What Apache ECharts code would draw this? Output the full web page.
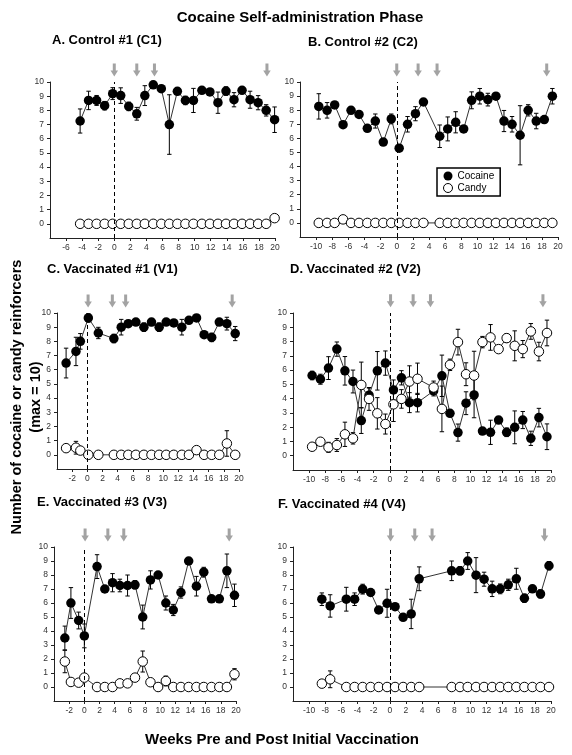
<!DOCTYPE html>
<html><head><meta charset="utf-8">
<script src="https://cdn.jsdelivr.net/npm/echarts@6/dist/echarts.min.js"></script>
<style>html,body{margin:0;padding:0;background:#fff}#c{width:572px;height:755px}</style>
</head><body><div id="c"></div>
<script>
// ---------- DATA ----------
const aWeeks = [-4.25,-3.2,-2.2,-1.2,-0.2,0.8,1.8,2.8,3.8,4.85,5.85,6.85,7.85,8.85,9.85,10.9,11.9,12.9,13.9,14.9,15.9,16.9,17.9,18.9,19.95];
const aCocaine = [7.25,8.7,8.7,8.33,9.18,9.04,8.28,7.76,9.04,9.8,9.53,7.0,9.34,8.7,8.7,9.41,9.3,8.54,9.36,8.75,9.41,8.75,8.54,8.0,7.34];
const aCocaineErr = [0.85,0.65,0.35,0.3,0.42,0.55,0.3,0.45,0.7,0.15,0.1,2.1,0.1,0.3,0.85,0.1,0.1,0.75,0.3,0.5,0.1,0.6,0.5,0.4,0.9];
const aCandy = [0,0,0,0,0,0,0,0,0,0,0,0,0,0,0,0,0,0,0,0,0,0,0,0,0.4];
const aCandyErr = [0,0,0,0,0,0,0,0,0,0,0,0,0,0,0,0,0,0,0,0,0,0,0,0,0.15];
const aArrows = [0, 2.8, 5.0, 19.0];

const bWeeks = [-9.67,-8.64,-7.7,-6.66,-5.67,-4.68,-3.65,-2.66,-1.67,-0.68,0.3,1.34,2.32,3.31,5.33,6.32,7.31,8.3,9.29,10.3,11.3,12.3,13.3,14.3,15.3,16.3,17.3,18.3,19.3];
const bCocaine = [8.27,7.99,8.37,6.97,7.99,7.7,6.71,7.23,5.74,7.38,5.3,7.0,7.75,8.58,6.15,6.67,7.14,6.67,8.7,8.99,8.75,8.99,7.23,7.0,6.22,7.99,7.23,7.33,8.99];
const bCocaineErr = [0.9,0.55,0.1,0.1,0.1,0.1,0.1,0.5,0.1,0.35,0.1,0.55,0.5,0.1,0.8,0.85,0.75,0.1,0.6,0.55,0.45,0.1,0.75,0.55,2.1,0.4,0.55,0.2,0.55];
const bCandy = [0,0,0,0.25,0,0,0,0,0,0,0,0,0,0,0,0,0,0,0,0,0,0,0,0,0,0,0,0,0];
const bCandyErr = [0,0,0,0,0,0,0,0,0,0,0,0,0,0,0,0,0,0,0,0,0,0,0,0,0,0,0,0,0];
const bArrows = [0, 2.65, 5.0, 18.6];

const cWeeks = [-2.8,-1.5,-0.92,0.13,1.45,3.5,4.47,5.4,6.4,7.46,8.46,9.47,10.4,11.4,12.46,13.4,14.4,15.4,16.4,17.4,18.4,19.5];
const cCocaine = [6.47,7.29,8.0,9.65,8.59,8.2,9.0,9.25,9.36,9.0,9.36,9.0,9.36,9.3,9.0,9.48,9.65,8.47,8.28,9.36,9.25,8.55];
const cCocaineErr = [1.05,1.0,0.55,0.3,0.4,0.3,0.55,0.2,0.2,0.3,0.25,0.3,0.2,0.2,0.55,0.15,0.2,0.1,0.3,0.2,0.45,0.5];
const cCandy = [0.47,0.5,0.3,0,0,0,0,0,0,0,0,0,0,0,0,0,0.33,0,0,0,0.8,0];
const cCandyErr = [0.2,0.45,0.2,0,0,0,0,0,0,0,0,0,0,0,0,0,0.2,0,0,0,0.9,0];
const cArrows = [0.1, 3.3, 5.05, 19.1];

const dWeeks = [-9.63,-8.6,-7.6,-6.56,-5.56,-4.56,-3.53,-2.57,-1.54,-0.54,0.46,1.45,2.45,3.44,5.44,6.47,7.47,8.46,9.46,10.46,11.5,12.5,13.5,14.5,15.5,16.5,17.5,18.5,19.5];
const dCocaine = [5.62,5.36,6.14,7.47,5.95,5.2,2.46,4.24,5.95,6.49,4.61,5.46,3.72,3.72,4.54,5.6,2.97,1.62,3.68,4.26,1.73,1.64,2.5,1.64,1.99,2.5,1.22,2.67,1.33];
const dCocaineErr = [0.3,0.35,0.8,0.5,1.0,0.8,0.9,0.5,1.35,0.85,0.7,0.5,0.7,0.65,0.35,1.45,0.15,0.6,0.8,1.6,0.15,0.85,0.2,0.3,1.15,0.6,0.5,0.65,0.9];
const dCandy = [0.63,0.98,0.59,0.75,1.5,1.22,4.96,3.98,2.97,2.22,3.6,3.98,5.2,5.39,4.78,3.28,6.37,7.96,5.71,5.62,7.96,8.29,7.47,8.24,7.7,7.47,8.71,7.3,8.6];
const dCandyErr = [0.25,0.2,0.35,0.45,0.85,0.4,1.6,0.8,1.1,0.7,1.2,0.65,1.1,1.1,0.45,1.6,0.4,0.9,0.8,1.7,0.4,0.9,0.15,0.3,1.05,0.6,0.55,0.65,0.9];
const dArrows = [0.1, 2.9, 5.05, 19.0];

const eWeeks = [-2.57,-1.77,-0.75,0,1.68,2.7,3.72,4.69,5.7,6.68,7.7,8.72,9.73,10.75,11.73,12.74,13.76,14.78,15.75,16.77,17.8,18.8,19.8];
const eCocaine = [3.5,6.0,4.75,3.65,8.6,7.0,7.45,7.25,7.25,7.3,5.0,7.65,8.0,6.0,5.5,6.75,9.0,7.2,8.2,6.3,6.3,8.3,6.55];
const eCocaineErr = [0.85,1.1,0.6,0.85,0.85,0.1,0.65,0.45,0.75,0.3,0.85,0.65,0.1,0.5,0.4,0.4,0.1,0.7,0.35,0.15,0.1,1.2,0.8];
const eCandy = [1.82,0.36,0.31,0.67,0,0,0,0.26,0.26,0.67,1.82,0.34,0,0.43,0,0,0,0,0,0,0,0,0.91];
const eCandyErr = [0.8,0.2,0.1,0.2,0,0,0,0.1,0.1,0.2,0.75,0.2,0,0.35,0,0,0,0,0,0,0,0,0.4];
const eArrows = [0.1, 3.1, 5.2, 19.1];

const fWeeks = [-8.42,-7.39,-5.39,-4.36,-3.36,-2.37,-1.37,-0.33,0.66,1.66,2.66,3.65,7.68,8.71,9.67,10.7,11.7,12.7,13.7,14.7,15.7,16.7,17.7,18.7,19.75];
const fCocaine = [6.27,5.79,6.27,6.27,6.99,6.75,5.5,5.98,5.74,4.98,5.22,7.73,8.3,8.3,9.0,7.99,7.7,7.01,7.01,7.3,7.73,6.34,7.01,6.65,8.66];
const fCocaineErr = [0.45,0.8,0.85,0.45,0.35,0.1,0.1,1.0,0.1,0.1,1.05,0.85,0.7,0.3,0.6,1.25,0.5,0.55,0.35,0.4,0.75,0.3,0.1,0.3,0.3];
const fCandy = [0.24,0.55,0,0,0,0,0,0,0,0,0,0,0,0,0,0,0,0,0,0,0,0,0,0,0];
const fCandyErr = [0,0.6,0,0,0,0,0,0,0,0,0,0,0,0,0,0,0,0,0,0,0,0,0,0,0];
const fArrows = [0.1, 3.1, 5.25, 19.2];

const panelTitles = ['A. Control #1 (C1)','B. Control #2 (C2)','C. Vaccinated #1 (V1)','D. Vaccinated #2 (V2)','E. Vaccinated #3 (V3)','F. Vaccinated #4 (V4)'];
const xMins = [-8, -12, -4, -12, -4, -12];
const xMax = 20;
const yMin = -1, yMax = 10;
const arrowLevel = 10.85;
const mainTitle = 'Cocaine Self-administration Phase';
const xTitle = 'Weeks Pre and Post Initial Vaccination';
const yTitle1 = 'Number of cocaine or candy reinforcers';
const yTitle2 = '(max = 10)';
const seriesNames = ['Cocaine', 'Candy'];

// ---------- LAYOUT ----------
const FONT = '"Liberation Sans", Arial, sans-serif';
const grids = [
  {left: 50, top: 82, width: 225, height: 156},
  {left: 300, top: 82, width: 258, height: 155},
  {left: 57, top: 313, width: 182, height: 156},
  {left: 293, top: 313, width: 258, height: 157},
  {left: 54, top: 547, width: 182, height: 154},
  {left: 293, top: 547, width: 258, height: 154}
];
const titlePos = [[52,34],[308,36],[47,263],[290,263],[37,496],[278,498]];

const panels = [
  [aWeeks,aCocaine,aCocaineErr,aCandy,aCandyErr,aArrows],
  [bWeeks,bCocaine,bCocaineErr,bCandy,bCandyErr,bArrows],
  [cWeeks,cCocaine,cCocaineErr,cCandy,cCandyErr,cArrows],
  [dWeeks,dCocaine,dCocaineErr,dCandy,dCandyErr,dArrows],
  [eWeeks,eCocaine,eCocaineErr,eCandy,eCandyErr,eArrows],
  [fWeeks,fCocaine,fCocaineErr,fCandy,fCandyErr,fArrows]
];

function errRender(params, api) {
  const x = api.value(0), lo = api.value(1), hi = api.value(2);
  const p1 = api.coord([x, hi]), p2 = api.coord([x, lo]);
  const w = 2.2;
  const st = {stroke: '#000', lineWidth: 1};
  return {type: 'group', children: [
    {type: 'line', shape: {x1: p1[0], y1: p1[1], x2: p2[0], y2: p2[1]}, style: st},
    {type: 'line', shape: {x1: p1[0]-w, y1: p1[1], x2: p1[0]+w, y2: p1[1]}, style: st},
    {type: 'line', shape: {x1: p2[0]-w, y1: p2[1], x2: p2[0]+w, y2: p2[1]}, style: st}
  ]};
}
const arrowPath = 'path://M3,0 L7,0 L7,7 L10,7 L5,13 L0,7 L3,7 Z';

const xAxes = [], yAxes = [], series = [], titles = [];
titles.push({text: mainTitle, left: 300, top: 10, textAlign: 'center', padding: 0,
  textStyle: {fontSize: 15, fontWeight: 'bold', fontFamily: FONT, color: '#000'}});

panels.forEach((p, i) => {
  const [weeks, coc, cocErr, can, canErr, arrows] = p;
  titles.push({text: panelTitles[i], left: titlePos[i][0], top: titlePos[i][1], padding: 0,
    textStyle: {fontSize: 13, fontWeight: 'bold', fontFamily: FONT, color: '#000'}});
  xAxes.push({gridIndex: i, type: 'value', min: xMins[i], max: xMax, interval: 2,
    axisLine: {onZero: false, lineStyle: {color: '#222', width: 1}},
    axisTick: {show: true, length: 3, lineStyle: {color: '#222'}},
    axisLabel: {fontSize: 8.5, color: '#333', fontFamily: FONT, margin: 5, showMinLabel: false},
    splitLine: {show: false}});
  yAxes.push({gridIndex: i, type: 'value', min: yMin, max: yMax, interval: 1,
    axisLine: {show: true, onZero: false, lineStyle: {color: '#222', width: 1}},
    axisTick: {show: true, length: 3, lineStyle: {color: '#222'}},
    axisLabel: {fontSize: 8.5, color: '#333', fontFamily: FONT, margin: 6, showMinLabel: false},
    splitLine: {show: false}});
  const cocErrData = [], canErrData = [];
  weeks.forEach((w, k) => {
    if (cocErr[k] > 0) cocErrData.push([w, coc[k]-cocErr[k], coc[k]+cocErr[k]]);
    if (canErr[k] > 0) canErrData.push([w, can[k]-canErr[k], can[k]+canErr[k]]);
  });
  series.push({type: 'custom', xAxisIndex: i, yAxisIndex: i, renderItem: errRender,
    encode: {x: 0, y: [1, 2]}, data: cocErrData, z: 1, silent: true});
  series.push({type: 'custom', xAxisIndex: i, yAxisIndex: i, renderItem: errRender,
    encode: {x: 0, y: [1, 2]}, data: canErrData, z: 1, silent: true});
  series.push({name: seriesNames[0], type: 'line', xAxisIndex: i, yAxisIndex: i, z: 3,
    data: weeks.map((w, k) => [w, coc[k]]),
    symbol: 'circle', symbolSize: 9.5, showAllSymbol: true,
    itemStyle: {color: '#000', borderColor: '#000', borderWidth: 0},
    lineStyle: {color: '#333', width: 1},
    markLine: {silent: true, symbol: ['none', 'none'], label: {show: false},
      lineStyle: {type: [4, 3], color: '#000', width: 1}, data: [{xAxis: 0}]}});
  series.push({name: seriesNames[1], type: 'line', xAxisIndex: i, yAxisIndex: i, z: 4,
    data: weeks.map((w, k) => [w, can[k]]),
    symbol: 'circle', symbolSize: 9.5, showAllSymbol: true,
    itemStyle: {color: '#fff', borderColor: '#000', borderWidth: 1},
    lineStyle: {color: '#333', width: 1}});
  series.push({type: 'scatter', xAxisIndex: i, yAxisIndex: i, clip: false, silent: true,
    data: arrows.map(a => [a, arrowLevel]), symbol: arrowPath, symbolSize: [7.5, 13],
    itemStyle: {color: '#8c8c8c'}, z: 5});
});

const chart = echarts.init(document.getElementById('c'), null, {renderer: 'canvas'});
chart.setOption({
  animation: false,
  backgroundColor: '#fff',
  title: titles,
  grid: grids.map(g => Object.assign({outerBoundsMode: 'none', containLabel: false}, g)),
  xAxis: xAxes,
  yAxis: yAxes,
  legend: {left: 437, top: 168, orient: 'vertical', itemGap: 2, itemWidth: 9, itemHeight: 9,
    padding: [3, 6, 3, 6], borderColor: '#000', borderWidth: 1.5, backgroundColor: '#fff',
    selectedMode: false,
    textStyle: {fontSize: 10, color: '#000', fontFamily: FONT},
    data: [
      {name: 'Cocaine', icon: 'circle', itemStyle: {color: '#000', borderWidth: 0}},
      {name: 'Candy', icon: 'circle', itemStyle: {color: '#fff', borderColor: '#000', borderWidth: 1}}
    ]},
  graphic: [
    {type: 'text', x: 17, y: 397, rotation: Math.PI/2,
      style: {text: yTitle1, font: 'bold 14.5px ' + FONT, fill: '#000', textAlign: 'center', textVerticalAlign: 'middle'}},
    {type: 'text', x: 36, y: 397, rotation: Math.PI/2,
      style: {text: yTitle2, font: 'bold 14.5px ' + FONT, fill: '#000', textAlign: 'center', textVerticalAlign: 'middle'}},
    {type: 'text', x: 282, y: 740,
      style: {text: xTitle, font: 'bold 15px ' + FONT, fill: '#000', textAlign: 'center', textVerticalAlign: 'middle'}}
  ],
  series: series
});
</script></body></html>
